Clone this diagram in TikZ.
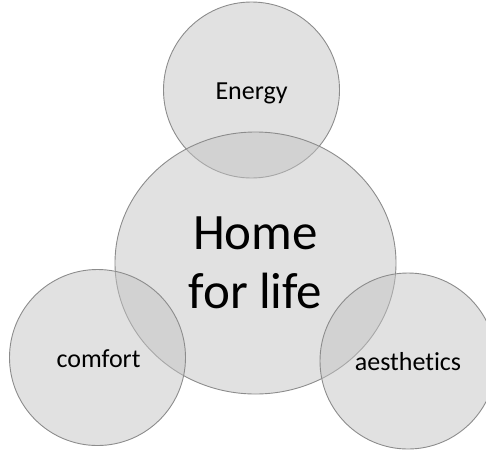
\documentclass[tikz,border=0pt]{standalone}
\usepackage{fontspec}
\setmainfont{Carlito}[Ligatures=NoCommon]
\usetikzlibrary{shapes.geometric}
\definecolor{bubblefill}{RGB}{195,195,195}
\definecolor{bubbleline}{RGB}{140,140,140}
\begin{document}
\begin{tikzpicture}[x=1pt,y=-1pt,
  bubble/.style={circle, draw=bubbleline, line width=0.9pt,
    fill=bubblefill, fill opacity=0.5, draw opacity=1, inner sep=0pt, minimum size=176pt},
  hub/.style={ellipse, draw=bubbleline, line width=0.9pt,
    fill=bubblefill, fill opacity=0.5, draw opacity=1, inner sep=0pt,
    minimum width=281pt, minimum height=262pt},
  small/.style={font=\fontsize{26}{31}\selectfont, anchor=base, inner sep=0pt},
  big/.style={font=\fontsize{51}{59}\selectfont, align=center, inner sep=0pt}]
\useasboundingbox (0,0) rectangle (486,450);
\clip (0,0) rectangle (486,450);
% four overlapping discs
\node[bubble] (energy) at (251.5,90) {};
\node[hub] (home) at (255.5,263) {};
\node[bubble] (comfort) at (97.5,357.5) {};
\node[bubble] (aest) at (408,361) {};
% labels
\node[small] (tenergy) at (251.5,99) {Energy};
\node[small] (tcomfort) at (98.5,367) {comfort};
\node[small] (taest) at (408,370) {aesthetics};
\node[big] (thome) at (255.5,263) {Home\\for life};
\end{tikzpicture}
\end{document}
